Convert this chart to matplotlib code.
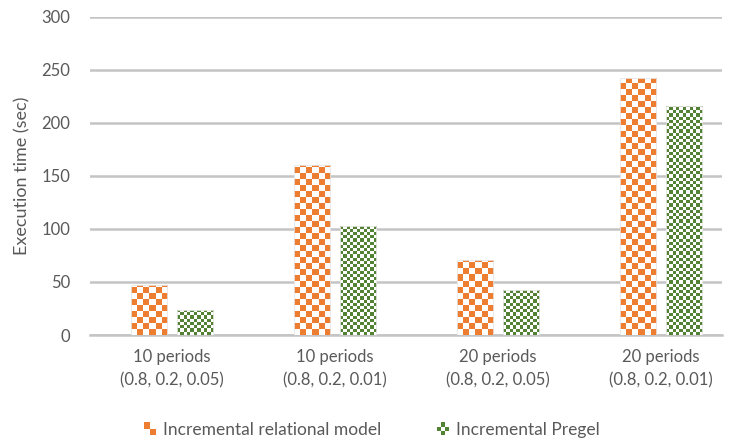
import numpy as np
import matplotlib
matplotlib.use("Agg")
import matplotlib.pyplot as plt
from matplotlib.colors import ListedColormap
from matplotlib.patches import Rectangle
from matplotlib.legend_handler import HandlerBase

categories = ["10 periods\n(0.8, 0.2, 0.05)", "10 periods\n(0.8, 0.2, 0.01)",
              "20 periods\n(0.8, 0.2, 0.05)", "20 periods\n(0.8, 0.2, 0.01)"]
relational = [47, 160, 71, 242]
pregel = [24, 103, 42, 216]
series_names = ["Incremental relational model", "Incremental Pregel"]
yticks = [0, 50, 100, 150, 200, 250, 300]

ORANGE = "#ED7D31"
GREEN = "#548235"
TEXT = "#595959"
GRID = "#c4c4c4"

plt.rcParams["font.family"] = ["Lato", "DejaVu Sans"]


def checker_fill(ax, bars, color, cell_px):
    """Paint each bar with a checkerboard clipped to the bar."""
    cmap = ListedColormap(["white", color])
    to_px = ax.transData
    for rect in bars:
        x0, y0 = rect.get_x(), rect.get_y()
        x1, y1 = x0 + rect.get_width(), y0 + rect.get_height()
        (px0, py0), (px1, py1) = to_px.transform([(x0, y0), (x1, y1)])
        ncols = max(1, int(round((px1 - px0) / cell_px)))
        nrows = int(np.ceil((py1 - py0) / cell_px)) + 1
        top_px = py0 + nrows * cell_px
        top = to_px.inverted().transform((px0, top_px))[1]
        grid = np.indices((nrows, ncols)).sum(axis=0) % 2
        im = ax.imshow(grid, cmap=cmap, extent=(x0, x1, y0, top), origin="lower",
                       interpolation="nearest", aspect="auto", zorder=3)
        im.set_clip_path(rect)


class CheckerHandler(HandlerBase):
    def __init__(self, color, n):
        super().__init__()
        self.color = color
        self.n = n

    def create_artists(self, legend, orig_handle, xdescent, ydescent,
                       width, height, fontsize, trans):
        s = height * 1.0
        x0 = -xdescent + (width - s) / 2
        y0 = -ydescent + (height - s) / 2
        c = s / self.n
        arts = []
        for i in range(self.n):
            for j in range(self.n):
                col = self.color if (i + j) % 2 else "white"
                arts.append(Rectangle((x0 + j * c, y0 + i * c), c, c, facecolor=col,
                                      edgecolor="none", transform=trans))
        return arts


fig, ax = plt.subplots(figsize=(7.36, 4.42), dpi=100)
fig.subplots_adjust(left=0.122, right=0.981, top=0.962, bottom=0.242)

x = np.arange(len(categories))
w = 0.221
off = 0.141
b1 = ax.bar(x - off, relational, w, color="none", edgecolor="#e6e6e6", linewidth=0.6, zorder=4)
b2 = ax.bar(x + off, pregel, w, color="none", edgecolor="#e6e6e6", linewidth=0.6, zorder=4)

ax.set_xlim(-0.503, 3.374)
ax.set_ylim(0, 300)

checker_fill(ax, b1, ORANGE, 6.0)
checker_fill(ax, b2, GREEN, 3.2)

ax.set_yticks(yticks)
ax.set_yticklabels([str(v) for v in yticks])
ax.set_xticks(x)
ax.set_xticklabels(categories, linespacing=1.6)
ax.tick_params(axis="both", length=0, labelsize=12, labelcolor=TEXT)
ax.tick_params(axis="y", pad=14)
ax.tick_params(axis="x", pad=10)
ax.yaxis.grid(True, color=GRID, linewidth=1.8, zorder=0)
ax.set_axisbelow(True)
for side in ["top", "right", "left"]:
    ax.spines[side].set_visible(False)
ax.spines["bottom"].set_color(GRID)
ax.spines["bottom"].set_linewidth(1.8)

ax.set_ylabel("Execution time (sec)", fontsize=13, color=TEXT, labelpad=8)

h1 = Rectangle((0, 0), 1, 1)
h2 = Rectangle((0, 0), 1, 1)
fig.legend([h1, h2], series_names, loc="center", bbox_to_anchor=(0.505, 0.028),
           ncol=2, frameon=False, fontsize=12.5, labelcolor=TEXT,
           handlelength=0.7, handleheight=0.7, handletextpad=0.4, columnspacing=3.2,
           handler_map={h1: CheckerHandler(ORANGE, 2), h2: CheckerHandler(GREEN, 3)})

fig.savefig("out.png", dpi=100)
